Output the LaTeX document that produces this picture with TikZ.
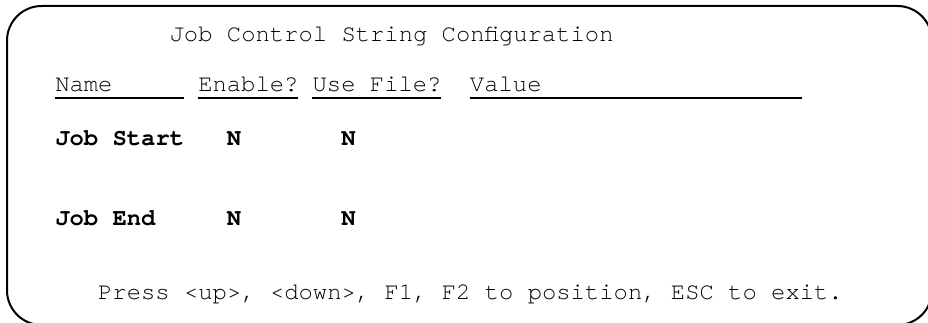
\documentclass[tikz,border=0pt]{standalone}
\usepackage{fontspec}
\setmonofont{TeX Gyre Cursor}
\usetikzlibrary{calc}
\tikzset{
  scr/.style={font=\ttfamily\fontsize{17.9}{20}\selectfont, anchor=base west, inner sep=0pt},
  scrb/.style={scr, font=\ttfamily\bfseries\fontsize{17.9}{20}\selectfont},
  uline/.style={line width=1.6pt},
}
\begin{document}
\begin{tikzpicture}[x=0.75pt,y=-0.75pt]
      \useasboundingbox (0,0) rectangle (928,323);
      \clip (0,0) rectangle (928,323);
      % screen frame
      \draw[line width=1.5pt, rounded corners=26pt] (7,6) rectangle (932,325);
      \node[scr] (title) at (169.4,42) {Job Control String Configuration};
      % header row
      \node[scr] (name) at (55,92) {Name};
      \node[scr] (enable) at (198,92) {Enable?};
      \node[scr] (usefile) at (312.4,92) {Use File?};
      \node[scr] (value) at (469.7,92) {Value};
      \draw[uline] ($(name.base west)+(0,6)$) -- +(128.7,0);
      \draw[uline] ($(enable.base west)+(0,6)$) -- +(100.1,0);
      \draw[uline] ($(usefile.base west)+(0,6)$) -- +(128.7,0);
      \draw[uline] ($(value.base west)+(0,6)$) -- +(332,0);
      % job rows
      \node[scrb] (jstart) at (55,146) {Job Start};
      \node[scrb] (jstarten) at (226.6,146) {N};
      \node[scrb] (jstartfile) at (341,146) {N};
      \node[scrb] (jend) at (55,226) {Job End};
      \node[scrb] (jenden) at (226.6,226) {N};
      \node[scrb] (jendfile) at (341,226) {N};
      \node[scr] (help) at (97.9,300) {Press <up>, <down>, F1, F2 to position, ESC to exit.};
\end{tikzpicture}
\end{document}
